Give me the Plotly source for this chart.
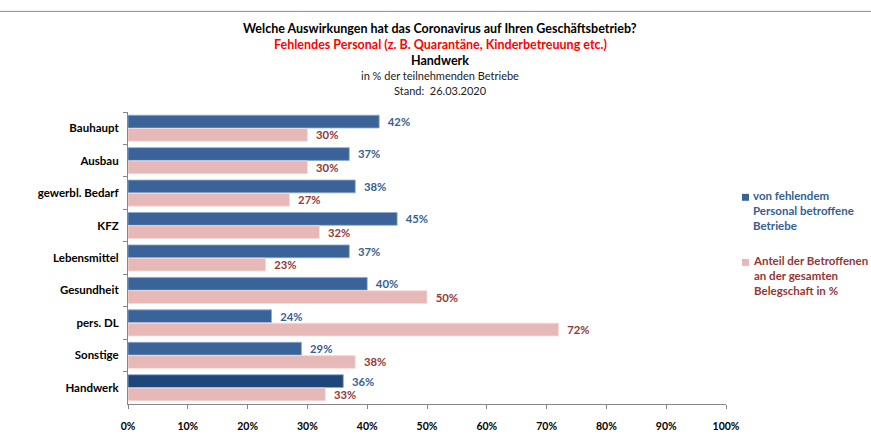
import plotly.graph_objects as go

categories = ["Bauhaupt", "Ausbau", "gewerbl. Bedarf", "KFZ", "Lebensmittel",
              "Gesundheit", "pers. DL", "Sonstige", "Handwerk"]
betroffene = [42, 37, 38, 45, 37, 40, 24, 29, 36]
anteil = [30, 30, 27, 32, 23, 50, 72, 38, 33]
x_ticks = [0, 10, 20, 30, 40, 50, 60, 70, 80, 90, 100]

W, H = 871, 444
L, R, T, B = 128, 145, 112, 36
ph = H - T - B

def py(px):
    return 1 + (T - px) / ph

def pxx(px):
    return (px - L) / (W - L - R)

FONT = "Lato, Carlito, Calibri, 'Open Sans', sans-serif"
BLUE = "#3A6399"
BLUE_DARK = "#1F467A"
PINK = "#E6B9B8"
BLUE_TXT = "#366092"
RED_TXT = "#953735"

blue_colors = [BLUE] * (len(categories) - 1) + [BLUE_DARK]

fig = go.Figure()
fig.add_trace(go.Bar(
    y=categories, x=betroffene, orientation="h",
    name="von fehlendem Personal betroffene Betriebe",
    marker=dict(color=blue_colors, line=dict(color="#8FA9CC", width=0.8)),
    text=[f"\u2002{v}%" for v in betroffene], textposition="outside",
    textfont=dict(family=FONT, size=11.5, color=BLUE_TXT, weight="bold"),
    cliponaxis=False, showlegend=False,
))
fig.add_trace(go.Bar(
    y=categories, x=anteil, orientation="h",
    name="Anteil der Betroffenen an der gesamten Belegschaft in %",
    marker=dict(color=PINK, line=dict(color="#F2DCDB", width=0.8)),
    text=[f"\u2002{v}%" for v in anteil], textposition="outside",
    textfont=dict(family=FONT, size=11.5, color=RED_TXT, weight="bold"),
    cliponaxis=False, showlegend=False,
))

annotations = [
    dict(text="<b>Welche Auswirkungen hat das Coronavirus auf Ihren Geschäftsbetrieb?</b>",
         y=py(27), font=dict(size=12.5, color="#000000")),
    dict(text="<b>Fehlendes Personal (z. B. Quarantäne, Kinderbetreuung etc.)</b>",
         y=py(44), font=dict(size=12.5, color="#FF0000")),
    dict(text="<b>Handwerk</b>", y=py(60), font=dict(size=12.5, color="#000000")),
    dict(text="in % der teilnehmenden Betriebe", y=py(75), font=dict(size=11, color="#222222")),
    dict(text="Stand:  26.03.2020", y=py(90), font=dict(size=11, color="#222222")),
]
for a in annotations:
    a.update(xref="paper", yref="paper", x=pxx(440), xanchor="center", yanchor="middle",
             showarrow=False)
    a["font"]["family"] = FONT

# legend (drawn as text + square markers)
legend_items = [
    ("von fehlendem<br>Personal betroffene<br>Betriebe", BLUE, BLUE_TXT, 196),
    ("Anteil der Betroffenen<br>an der gesamten<br>Belegschaft in %", PINK, RED_TXT, 262),
]
shapes = []
for txt, col, tcol, ytop in legend_items:
    annotations.append(dict(
        text=f"<b>{txt}</b>", xref="paper", yref="paper", x=pxx(751), y=py(ytop - 8),
        xanchor="left", yanchor="top", align="left", showarrow=False,
        font=dict(family=FONT, size=11.5, color=tcol)))
    shapes.append(dict(type="rect", xref="paper", yref="paper",
                       x0=pxx(742), x1=pxx(749), y0=py(ytop + 6), y1=py(ytop - 1),
                       fillcolor=col, line=dict(width=0)))

shapes.append(dict(type="line", xref="paper", yref="paper", x0=pxx(0), x1=pxx(871),
                   y0=py(10), y1=py(10), line=dict(color="#8C8C8C", width=1)))

fig.update_layout(
    width=W, height=H,
    margin=dict(l=L, r=R, t=T, b=B),
    paper_bgcolor="white", plot_bgcolor="white",
    barmode="group", bargap=0.18, bargroupgap=0.04,
    showlegend=False,
    annotations=annotations, shapes=shapes,
    font=dict(family=FONT),
    xaxis=dict(range=[0, 100], tickvals=x_ticks, ticktext=[f"{v}%" for v in x_ticks],
               showgrid=False, zeroline=False, showline=True, linecolor="#868686",
               linewidth=1, ticks="outside", ticklen=4, tickcolor="#868686",
               ticklabelstandoff=8,
               tickfont=dict(family=FONT, size=10.5, color="#000000", weight="bold")),
    yaxis=dict(categoryorder="array", categoryarray=categories, autorange="reversed",
               showgrid=False, showline=True, linecolor="#868686", linewidth=1,
               ticks="outside", ticklen=4, tickcolor="#868686", tickson="boundaries",
               ticklabelstandoff=6,
               tickfont=dict(family=FONT, size=11.5, color="#000000", weight="bold")),
)

fig.write_html("out.html", config={"displayModeBar": False},
               post_script="document.body.style.margin='0';")
